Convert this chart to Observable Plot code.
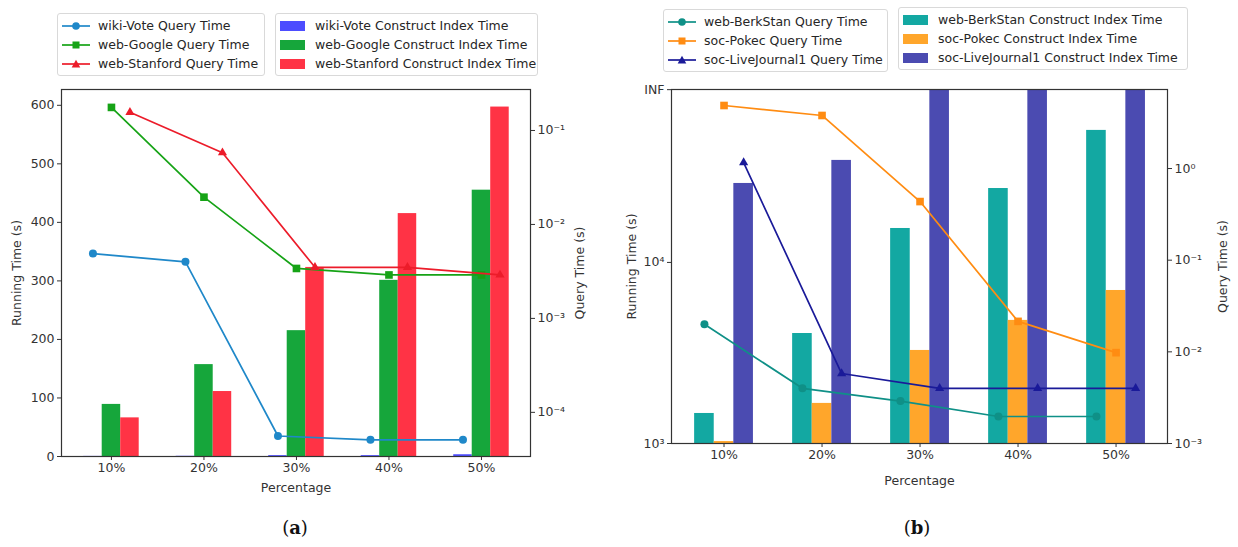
<!DOCTYPE html>
<html>
<head>
<meta charset="utf-8">
<script src="https://cdn.jsdelivr.net/npm/d3@7"></script>
<script src="https://cdn.jsdelivr.net/npm/@observablehq/plot@0.6"></script>
<style>
  body { margin: 0; background: #fff; font-family: "DejaVu Sans", sans-serif; }
  #root { position: relative; width: 1238px; height: 547px; overflow: hidden; background: #fff; }
  .legend { position: absolute; box-sizing: border-box; border: 1px solid #d9d9d9; border-radius: 3px;
            background: #fff; font-size: 12.5px; color: #262626; padding: 2px 4px; }
  .legend .row { height: 19px; display: flex; align-items: center; white-space: nowrap; }
  .legend svg { flex: none; }
  .cap { position: absolute; font-family: "DejaVu Serif", "Liberation Serif", serif; font-size: 18px; color: #111; transform: translate(-50%, -50%); }
  .cap b { font-weight: bold; }
</style>
</head>
<body>
<div id="root"></div>
<script>
// ---------------- data ----------------
const percentages = ["10%", "20%", "30%", "40%", "50%"];

// panel (a)
const seriesA = ["wiki-Vote", "web-Google", "web-Stanford"];
const wikiVoteConstruct = [0.2, 0.4, 1.5, 1.5, 3];
const webGoogleConstruct = [89, 157, 215, 301, 455];
const webStanfordConstruct = [66, 111, 323, 415, 597];
const wikiVoteQuery = [0.0049, 0.0040, 0.000056, 0.000051, 0.000051];
const webGoogleQuery = [0.176, 0.0195, 0.0034, 0.0029, 0.0029];
const webStanfordQuery = [0.156, 0.058, 0.0035, 0.0035, 0.0029];
const runTicksA = [0, 100, 200, 300, 400, 500, 600];
const queryTicksA = [0.1, 0.01, 0.001, 0.0001];
const queryTickLabelsA = ["10\u207B\u00B9", "10\u207B\u00B2", "10\u207B\u00B3", "10\u207B\u2074"];

// panel (b)
const INF = 90000;
const seriesB = ["web-BerkStan", "soc-Pokec", "soc-LiveJournal1"];
const berkStanConstruct = [1465, 4050, 15400, 25600, 53600];
const pokecConstruct = [1025, 1665, 3265, 4785, 7000];
const liveJournalConstruct = [27300, 36600, INF, INF, INF];
const berkStanQuery = [0.020, 0.0040, 0.0029, 0.00197, 0.00197];
const pokecQuery = [4.87, 3.79, 0.436, 0.0215, 0.0098];
const liveJournalQuery = [1.16, 0.0058, 0.0040, 0.0040, 0.0040];
const runTicksB = [1000, 10000, INF];
const runTickLabelsB = ["10\u00B3", "10\u2074", "INF"];
const queryTicksB = [1, 0.1, 0.01, 0.001];
const queryTickLabelsB = ["10\u2070", "10\u207B\u00B9", "10\u207B\u00B2", "10\u207B\u00B3"];

// ---------------- styles ----------------
const groupOffsets = [-0.2, 0, 0.2];
const barWidth = 0.2;
const barColorsA = ["#4d4dff", "#16a63b", "#ff3345"];
const lineColorsA = ["#1f88c9", "#16a316", "#ec1c2a"];
const barColorsB = ["#13a8a2", "#ffa62b", "#4b4bb1"];
const lineColorsB = ["#0f9087", "#ff8c12", "#1a1a99"];
const symbols = ["circle", "square", "triangle"];
const symbolR = [4, 4.3, 3.4];

const root = document.getElementById("root");
const baseStyle = { fontFamily: '"DejaVu Sans", sans-serif', fontSize: "12.5px", color: "#333",
                    background: "transparent", overflow: "visible" };

function table(names, lists) {
  return names.flatMap((s, k) => lists[k].map((v, i) => ({ series: s, k, i, pos: i + groupOffsets[k], value: v })));
}
function place(el, left, top) {
  el.style.position = "absolute";
  el.style.left = left + "px";
  el.style.top = top + "px";
  root.appendChild(el);
}

function panel(cfg) {
  const dims = { width: cfg.width, height: cfg.height, marginLeft: cfg.ml, marginRight: cfg.mr,
                 marginTop: cfg.mt, marginBottom: cfg.mb, style: baseStyle };
  const bars = table(cfg.series, cfg.bars);
  const lines = table(cfg.series, cfg.lines);

  // Plot drops some log-scale tick labels (e.g. the non-power-of-ten INF tick);
  // such labels are written with a text mark at the same scale position.
  const extraLabels = cfg.barType === "log"
    ? cfg.barTicks.filter(t => Math.abs(Math.log10(t) - Math.round(Math.log10(t))) > 1e-9)
    : [];

  const barPlot = Plot.plot({
    ...dims,
    x: { domain: cfg.xDomain, axis: null },
    y: { type: cfg.barType, domain: cfg.barDomain, axis: null },
    color: { domain: cfg.series, range: cfg.barColors },
    marks: [
      Plot.rect(bars, { x1: d => d.pos - barWidth / 2, x2: d => d.pos + barWidth / 2,
                        y1: cfg.barBase, y2: "value", fill: "series" }),
      Plot.axisX({ ticks: d3.range(percentages.length), tickFormat: i => percentages[i],
                   tickSize: 4, tickPadding: 3, label: "Percentage", labelAnchor: "center",
                   labelArrow: "none", labelOffset: cfg.xLabelOffset }),
      Plot.axisY({ ticks: cfg.barTicks, tickFormat: cfg.barTickFormat, tickSize: 4, tickPadding: 3,
                   label: "Running Time (s)", labelAnchor: "center", labelArrow: "none",
                   labelOffset: cfg.yLabelOffset }),
      Plot.text(extraLabels, { y: d => d, frameAnchor: "left", dx: -7, textAnchor: "end",
                               text: cfg.barTickFormat, fontSize: 12.5, fill: "currentColor" }),
      Plot.frame({ stroke: "#333", strokeWidth: 1.2 })
    ]
  });

  const lineMarks = [];
  cfg.series.forEach((s, k) => {
    const rows = lines.filter(d => d.series === s);
    lineMarks.push(Plot.line(rows, { x: "pos", y: "value", stroke: cfg.lineColors[k], strokeWidth: 1.7 }));
    lineMarks.push(Plot.dot(rows, { x: "pos", y: "value", fill: cfg.lineColors[k], symbol: symbols[k], r: symbolR[k] }));
  });
  const linePlot = Plot.plot({
    ...dims,
    x: { domain: cfg.xDomain, axis: null },
    y: { type: "log", domain: cfg.lineDomain, axis: null },
    marks: [
      ...lineMarks,
      Plot.axisY({ anchor: "right", ticks: cfg.lineTicks, tickFormat: cfg.lineTickFormat,
                   tickSize: 4, tickPadding: 3, label: "Query Time (s)", labelAnchor: "center",
                   labelArrow: "none", labelOffset: cfg.yRightLabelOffset })
    ]
  });
  place(barPlot, cfg.left, cfg.top);
  place(linePlot, cfg.left, cfg.top);
}

panel({
  left: 0, top: 80, width: 600, height: 410, ml: 61, mr: 70, mt: 9, mb: 34,
  series: seriesA, xDomain: [-0.54, 4.53],
  bars: [wikiVoteConstruct, webGoogleConstruct, webStanfordConstruct],
  lines: [wikiVoteQuery, webGoogleQuery, webStanfordQuery],
  barType: "linear", barDomain: [0, 627], barBase: 0, barTicks: runTicksA, barTickFormat: d => String(d),
  barColors: barColorsA, lineColors: lineColorsA,
  lineDomain: [3.39e-5, 0.273], lineTicks: queryTicksA,
  lineTickFormat: d => queryTickLabelsA[queryTicksA.indexOf(d)],
  xLabelOffset: 35, yLabelOffset: 49, yRightLabelOffset: 53
});

panel({
  left: 620, top: 80, width: 618, height: 410, ml: 51, mr: 71, mt: 9, mb: 47,
  series: seriesB, xDomain: [-0.536, 4.525],
  bars: [berkStanConstruct, pokecConstruct, liveJournalConstruct],
  lines: [berkStanQuery, pokecQuery, liveJournalQuery],
  barType: "log", barDomain: [1000, INF * 1.002], barBase: 1000, barTicks: runTicksB,
  barTickFormat: d => runTickLabelsB[runTicksB.indexOf(d)],
  barColors: barColorsB, lineColors: lineColorsB,
  lineDomain: [0.001, 7.28], lineTicks: queryTicksB,
  lineTickFormat: d => queryTickLabelsB[queryTicksB.indexOf(d)],
  xLabelOffset: 41, yLabelOffset: 44, yRightLabelOffset: 59
});

// ---------------- legends ----------------
function glyphLine(color, symbol) {
  let m = "";
  if (symbol === "circle") m = `<circle cx="14" cy="6" r="3.8" fill="${color}"/>`;
  else if (symbol === "square") m = `<rect x="10.5" y="2.5" width="7" height="7" fill="${color}"/>`;
  else m = `<path d="M14,1.8 L18.3,9.6 L9.7,9.6 Z" fill="${color}"/>`;
  return `<svg width="28" height="12"><line x1="0" y1="6" x2="28" y2="6" stroke="${color}" stroke-width="1.7"/>${m}</svg>`;
}
function glyphBar(color) {
  return `<svg width="25" height="10"><rect x="0" y="0" width="25" height="10" fill="${color}"/></svg>`;
}
function legend(left, top, width, items, gap) {
  const box = document.createElement("div");
  box.className = "legend";
  box.style.left = left + "px";
  box.style.top = top + "px";
  box.style.width = width + "px";
  items.forEach(it => {
    const row = document.createElement("div");
    row.className = "row";
    row.innerHTML = it.glyph;
    const span = document.createElement("span");
    span.textContent = it.label;
    span.style.marginLeft = gap + "px";
    row.appendChild(span);
    box.appendChild(row);
  });
  root.appendChild(box);
}
legend(57, 13, 208, seriesA.map((s, k) => ({ label: s + " Query Time", glyph: glyphLine(lineColorsA[k], symbols[k]) })), 8);
legend(275, 13, 263, seriesA.map((s, k) => ({ label: s + " Construct Index Time", glyph: glyphBar(barColorsA[k]) })), 10);
legend(663, 9, 225, seriesB.map((s, k) => ({ label: s + " Query Time", glyph: glyphLine(lineColorsB[k], symbols[k]) })), 8);
legend(898, 7, 290, seriesB.map((s, k) => ({ label: s + " Construct Index Time", glyph: glyphBar(barColorsB[k]) })), 10);

// captions
function caption(letter, x, y) {
  const d = document.createElement("div");
  d.className = "cap";
  d.innerHTML = `(<b>${letter}</b>)`;
  d.style.left = x + "px";
  d.style.top = y + "px";
  root.appendChild(d);
}
caption("a", 295, 527);
caption("b", 917, 527);
</script>
</body>
</html>
